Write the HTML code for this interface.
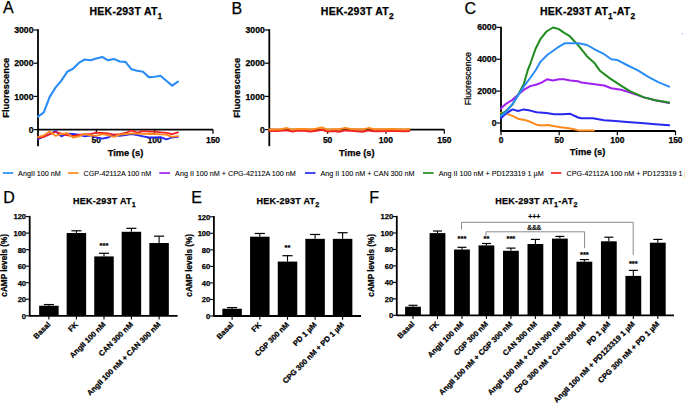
<!DOCTYPE html>
<html><head><meta charset="utf-8"><style>
html,body{margin:0;padding:0;background:#fff;}
svg{display:block;font-family:"Liberation Sans", sans-serif;}
text{stroke:#000;stroke-width:0.25px;}
</style></head><body>
<svg width="685" height="404" viewBox="0 0 685 404">
<rect width="685" height="404" fill="#fff"/>
<text x="2.9" y="12.8" font-size="16" font-weight="normal" text-anchor="start" >A</text>
<text x="231.6" y="13.6" font-size="16" font-weight="normal" text-anchor="start" >B</text>
<text x="464.5" y="13.5" font-size="16" font-weight="normal" text-anchor="start" >C</text>
<text x="3.3" y="203.2" font-size="16" font-weight="normal" text-anchor="start" >D</text>
<text x="191.3" y="202.7" font-size="16" font-weight="normal" text-anchor="start" >E</text>
<text x="369.3" y="203.2" font-size="16" font-weight="normal" text-anchor="start" >F</text>
<text x="89.5" y="15.2" font-size="10.5" font-weight="bold" letter-spacing="0.25"><tspan y="15.2">HEK-293T AT</tspan><tspan font-size="8.40" dy="3.57">1</tspan></text>
<text x="320.8" y="15.2" font-size="10.5" font-weight="bold" letter-spacing="0.25"><tspan y="15.2">HEK-293T AT</tspan><tspan font-size="8.40" dy="3.57">2</tspan></text>
<text x="540.0" y="15.0" font-size="10.5" font-weight="bold" letter-spacing="0.25"><tspan y="15.0">HEK-293T AT</tspan><tspan font-size="8.40" dy="3.57">1</tspan><tspan y="15.0">-AT</tspan><tspan font-size="8.40" dy="3.57">2</tspan></text>
<text x="73.1" y="203.8" font-size="9" font-weight="bold" letter-spacing="0.25"><tspan y="203.8">HEK-293T AT</tspan><tspan font-size="7.20" dy="3.06">1</tspan></text>
<text x="256.6" y="203.8" font-size="9" font-weight="bold" letter-spacing="0.25"><tspan y="203.8">HEK-293T AT</tspan><tspan font-size="7.20" dy="3.06">2</tspan></text>
<text x="495.3" y="203.7" font-size="9" font-weight="bold" letter-spacing="0.25"><tspan y="203.7">HEK-293T AT</tspan><tspan font-size="7.20" dy="3.06">1</tspan><tspan y="203.7">-AT</tspan><tspan font-size="7.20" dy="3.06">2</tspan></text>
<line x1="38" y1="29.2" x2="38" y2="146.2" stroke="#000" stroke-width="1.8"/>
<line x1="38" y1="129.6" x2="213" y2="129.6" stroke="#000" stroke-width="1.8"/>
<line x1="33.5" y1="30.0" x2="38" y2="30.0" stroke="#000" stroke-width="1.2"/>
<text x="33.5" y="33.1" font-size="8.7" font-weight="bold" text-anchor="end" >3000</text>
<line x1="33.5" y1="63.19999999999999" x2="38" y2="63.19999999999999" stroke="#000" stroke-width="1.2"/>
<text x="33.5" y="66.29999999999998" font-size="8.7" font-weight="bold" text-anchor="end" >2000</text>
<line x1="33.5" y1="96.39999999999999" x2="38" y2="96.39999999999999" stroke="#000" stroke-width="1.2"/>
<text x="33.5" y="99.49999999999999" font-size="8.7" font-weight="bold" text-anchor="end" >1000</text>
<line x1="33.5" y1="129.6" x2="38" y2="129.6" stroke="#000" stroke-width="1.2"/>
<text x="33.5" y="132.7" font-size="8.7" font-weight="bold" text-anchor="end" >0</text>
<line x1="96.33333333333334" y1="129.6" x2="96.33333333333334" y2="133.79999999999998" stroke="#000" stroke-width="1.2"/>
<text x="96.33333333333334" y="142.8" font-size="8.5" font-weight="bold" text-anchor="middle" >50</text>
<line x1="154.66666666666669" y1="129.6" x2="154.66666666666669" y2="133.79999999999998" stroke="#000" stroke-width="1.2"/>
<text x="154.66666666666669" y="142.8" font-size="8.5" font-weight="bold" text-anchor="middle" >100</text>
<line x1="213.0" y1="129.6" x2="213.0" y2="133.79999999999998" stroke="#000" stroke-width="1.2"/>
<text x="213.0" y="142.8" font-size="8.5" font-weight="bold" text-anchor="middle" >150</text>
<text x="125.5" y="156.3" font-size="9.3" font-weight="bold" text-anchor="middle" >Time (s)</text>
<text transform="translate(5.3,87.7) rotate(-90)" font-size="9.3" font-weight="bold" text-anchor="middle" dy="3.35">Fluorescence</text>
<line x1="269.3" y1="29.2" x2="269.3" y2="146.2" stroke="#000" stroke-width="1.8"/>
<line x1="269.3" y1="129.6" x2="444.3" y2="129.6" stroke="#000" stroke-width="1.8"/>
<line x1="264.8" y1="30.0" x2="269.3" y2="30.0" stroke="#000" stroke-width="1.2"/>
<text x="264.8" y="33.1" font-size="8.7" font-weight="bold" text-anchor="end" >3000</text>
<line x1="264.8" y1="63.19999999999999" x2="269.3" y2="63.19999999999999" stroke="#000" stroke-width="1.2"/>
<text x="264.8" y="66.29999999999998" font-size="8.7" font-weight="bold" text-anchor="end" >2000</text>
<line x1="264.8" y1="96.39999999999999" x2="269.3" y2="96.39999999999999" stroke="#000" stroke-width="1.2"/>
<text x="264.8" y="99.49999999999999" font-size="8.7" font-weight="bold" text-anchor="end" >1000</text>
<line x1="264.8" y1="129.6" x2="269.3" y2="129.6" stroke="#000" stroke-width="1.2"/>
<text x="264.8" y="132.7" font-size="8.7" font-weight="bold" text-anchor="end" >0</text>
<line x1="327.6333333333333" y1="129.6" x2="327.6333333333333" y2="133.79999999999998" stroke="#000" stroke-width="1.2"/>
<text x="327.6333333333333" y="142.8" font-size="8.5" font-weight="bold" text-anchor="middle" >50</text>
<line x1="385.9666666666667" y1="129.6" x2="385.9666666666667" y2="133.79999999999998" stroke="#000" stroke-width="1.2"/>
<text x="385.9666666666667" y="142.8" font-size="8.5" font-weight="bold" text-anchor="middle" >100</text>
<line x1="444.3" y1="129.6" x2="444.3" y2="133.79999999999998" stroke="#000" stroke-width="1.2"/>
<text x="444.3" y="142.8" font-size="8.5" font-weight="bold" text-anchor="middle" >150</text>
<text x="356.8" y="156.3" font-size="9.3" font-weight="bold" text-anchor="middle" >Time (s)</text>
<text transform="translate(236.5,87.9) rotate(-90)" font-size="9.3" font-weight="bold" text-anchor="middle" dy="3.35">Fluorescence</text>
<polyline points="38.0,116.7 43.8,112.4 49.7,96.9 55.5,87.6 61.3,80.7 67.2,71.8 73.0,68.8 78.8,62.9 84.7,59.5 90.5,60.3 96.3,58.5 102.2,56.9 108.0,60.3 113.8,58.9 119.7,61.5 125.5,61.9 131.3,69.2 137.2,70.8 143.0,71.8 148.8,77.1 154.7,76.7 160.5,75.7 166.3,80.7 172.2,85.6 178.0,81.7" fill="none" stroke="#2a8cf6" stroke-width="2.1" stroke-linejoin="round" stroke-linecap="round"/>
<polyline points="38.0,139.2 43.8,136.4 49.7,134.2 55.5,131.0 61.3,136.4 67.2,133.7 73.0,134.0 78.8,134.6 84.7,136.4 90.5,135.5 96.3,137.5 102.2,138.6 108.0,137.5 113.8,135.2 119.7,135.8 125.5,135.0 131.3,134.0 137.2,135.2 143.0,136.4 148.8,137.5 154.7,137.5 160.5,137.2 166.3,139.3 172.2,137.5 178.0,136.9" fill="none" stroke="#2828f0" stroke-width="1.8" stroke-linejoin="round" stroke-linecap="round"/>
<polyline points="38.0,137.5 43.8,137.0 49.7,134.2 55.5,132.0 61.3,133.7 67.2,135.3 73.0,135.9 78.8,135.0 84.7,134.2 90.5,134.2 96.3,132.6 102.2,133.0 108.0,133.4 113.8,134.6 119.7,134.2 125.5,133.0 131.3,130.5 137.2,132.6 143.0,131.1 148.8,131.7 154.7,131.7 160.5,132.3 166.3,132.8 172.2,134.2 178.0,132.3" fill="none" stroke="#f22222" stroke-width="1.8" stroke-linejoin="round" stroke-linecap="round"/>
<polyline points="38.0,137.0 43.8,135.3 49.7,131.5 55.5,135.9 61.3,134.0 67.2,133.1 73.0,137.5 78.8,136.4 84.7,134.0 90.5,135.3 96.3,135.9 102.2,134.2 108.0,135.0 113.8,136.9 119.7,134.6 125.5,134.0 131.3,133.4 137.2,133.6 143.0,133.8 148.8,134.0 154.7,134.0 160.5,134.4 166.3,134.6 172.2,136.9 178.0,136.1" fill="none" stroke="#ff8a1c" stroke-width="1.8" stroke-linejoin="round" stroke-linecap="round"/>
<polyline points="269.3,130.8 275.1,131.0 281.0,130.8 286.8,130.2 292.6,131.6 298.5,130.6 304.3,130.8 310.1,131.6 316.0,130.8 321.8,129.8 327.6,131.6 333.5,131.0 339.3,131.8 345.1,130.4 351.0,130.8 356.8,131.2 362.6,131.8 368.5,130.4 374.3,131.2 380.1,131.2 386.0,131.0 391.8,130.8 397.6,131.0 403.5,131.2 409.3,131.0" fill="none" stroke="#f22222" stroke-width="2" stroke-linejoin="round" stroke-linecap="round"/>
<polyline points="269.3,129.6 275.1,129.6 281.0,129.3 286.8,128.1 292.6,129.6 298.5,129.0 304.3,129.0 310.1,129.6 316.0,128.8 321.8,127.5 327.6,129.8 333.5,129.2 339.3,129.3 345.1,128.1 351.0,129.0 356.8,129.3 362.6,129.5 368.5,128.1 374.3,129.3 380.1,129.3 386.0,129.2 391.8,129.0 397.6,129.3 403.5,129.5 409.3,129.3" fill="none" stroke="#ff8a1c" stroke-width="2" stroke-linejoin="round" stroke-linecap="round"/>
<line x1="501" y1="26.7" x2="501" y2="131.8" stroke="#000" stroke-width="1.8"/>
<line x1="501" y1="131" x2="675.5" y2="131" stroke="#000" stroke-width="1.8"/>
<line x1="496.5" y1="27.36" x2="501" y2="27.36" stroke="#000" stroke-width="1.2"/>
<text x="496.5" y="30.46" font-size="8.7" font-weight="bold" text-anchor="end" >6000</text>
<line x1="496.5" y1="59.24" x2="501" y2="59.24" stroke="#000" stroke-width="1.2"/>
<text x="496.5" y="62.34" font-size="8.7" font-weight="bold" text-anchor="end" >4000</text>
<line x1="496.5" y1="91.12" x2="501" y2="91.12" stroke="#000" stroke-width="1.2"/>
<text x="496.5" y="94.22" font-size="8.7" font-weight="bold" text-anchor="end" >2000</text>
<line x1="496.5" y1="123.0" x2="501" y2="123.0" stroke="#000" stroke-width="1.2"/>
<text x="496.5" y="126.1" font-size="8.7" font-weight="bold" text-anchor="end" >0</text>
<line x1="501.0" y1="131" x2="501.0" y2="135.2" stroke="#000" stroke-width="1.2"/>
<text x="501.0" y="142.6" font-size="8.5" font-weight="bold" text-anchor="middle" >0</text>
<line x1="559.1666666666666" y1="131" x2="559.1666666666666" y2="135.2" stroke="#000" stroke-width="1.2"/>
<text x="559.1666666666666" y="142.6" font-size="8.5" font-weight="bold" text-anchor="middle" >50</text>
<line x1="617.3333333333334" y1="131" x2="617.3333333333334" y2="135.2" stroke="#000" stroke-width="1.2"/>
<text x="617.3333333333334" y="142.6" font-size="8.5" font-weight="bold" text-anchor="middle" >100</text>
<line x1="675.5" y1="131" x2="675.5" y2="135.2" stroke="#000" stroke-width="1.2"/>
<text x="675.5" y="142.6" font-size="8.5" font-weight="bold" text-anchor="middle" >150</text>
<text x="587.6" y="155.4" font-size="9.3" font-weight="bold" text-anchor="middle" >Time (s)</text>
<text transform="translate(467.8,78.6) rotate(-90)" font-size="8.9" font-weight="normal" stroke="#000" stroke-width="0.3" text-anchor="middle" dy="3.2">Fluorescence</text>
<polyline points="500.9,112.7 506.0,113.5 512.5,115.9 518.9,119.1 524.6,119.9 530.2,121.8 536.6,124.7 541.5,125.5 547.9,125.0 554.3,126.3 562.4,127.6 568.8,128.3 575.3,129.6 578.5,130.4 593.9,130.4" fill="none" stroke="#ff8a1c" stroke-width="2" stroke-linejoin="round" stroke-linecap="round"/>
<polyline points="500.9,118.3 506.0,113.5 512.5,109.4 518.1,111.0 523.8,109.4 530.2,110.6 536.6,112.2 546.3,113.1 554.3,114.3 562.4,114.3 570.4,113.8 578.0,117.5 581.4,118.2 592.8,118.2 604.2,120.2 615.5,121.1 626.9,121.9 641.2,123.0 655.4,124.2 669.1,125.3" fill="none" stroke="#2828f0" stroke-width="2" stroke-linejoin="round" stroke-linecap="round"/>
<polyline points="500.9,108.6 506.0,103.8 512.5,99.8 518.9,94.1 524.6,89.3 530.2,86.1 536.6,84.5 541.5,82.6 547.1,79.3 552.7,80.5 559.2,79.2 564.0,79.2 570.4,80.5 578.0,81.3 581.4,82.6 592.8,84.0 604.2,85.5 611.3,88.3 621.2,89.7 632.6,93.4 644.0,97.4 655.4,100.3 669.1,103.1" fill="none" stroke="#a020f0" stroke-width="2" stroke-linejoin="round" stroke-linecap="round"/>
<polyline points="500.9,114.0 506.0,111.0 512.5,104.5 518.0,95.0 523.8,84.0 527.8,70.0 529.7,65.5 535.6,48.7 540.6,38.8 546.5,31.5 553.0,27.5 558.4,28.9 564.3,32.9 569.3,35.8 578.5,45.6 587.1,56.4 594.2,62.7 599.9,70.7 609.9,78.4 619.8,84.9 629.8,91.2 644.0,97.4 655.4,100.3 669.1,102.6" fill="none" stroke="#1e8c1e" stroke-width="2" stroke-linejoin="round" stroke-linecap="round"/>
<polyline points="500.9,115.9 506.0,111.9 512.5,103.8 518.9,94.1 524.6,85.3 530.2,78.0 535.8,70.0 540.6,61.6 547.5,54.7 557.4,47.7 564.9,43.2 570.0,43.3 578.5,43.3 587.1,45.0 595.6,49.9 604.2,54.2 611.3,59.3 617.0,59.9 626.9,65.0 638.3,70.7 648.3,76.9 658.2,82.1 669.1,86.6" fill="none" stroke="#2a8cf6" stroke-width="2" stroke-linejoin="round" stroke-linecap="round"/>
<circle cx="682.4" cy="33.7" r="0.7" fill="#2a8cf6" opacity="0.6"/>
<line x1="2.8" y1="173.0" x2="13.2" y2="173.0" stroke="#2a8cf6" stroke-width="1.7"/>
<text x="18.1" y="175.7" font-size="7.2" font-weight="normal" text-anchor="start" style="stroke-width:0.08px">AngII 100 nM</text>
<line x1="68" y1="173.0" x2="78.5" y2="173.0" stroke="#ff8a1c" stroke-width="1.7"/>
<text x="83.5" y="175.7" font-size="7.2" font-weight="normal" text-anchor="start" style="stroke-width:0.08px">CGP-42112A 100 nM</text>
<line x1="159.3" y1="173.0" x2="170.1" y2="173.0" stroke="#a020f0" stroke-width="1.7"/>
<text x="175.1" y="175.7" font-size="7.2" font-weight="normal" text-anchor="start" style="stroke-width:0.08px">Ang II 100 nM + CPG-42112A 100 nM</text>
<line x1="305" y1="173.0" x2="315.5" y2="173.0" stroke="#2828f0" stroke-width="1.7"/>
<text x="320.5" y="175.7" font-size="7.2" font-weight="normal" text-anchor="start" style="stroke-width:0.08px">Ang II 100 nM + CAN 300 nM</text>
<line x1="423" y1="173.0" x2="433.6" y2="173.0" stroke="#1e8c1e" stroke-width="1.7"/>
<text x="438.7" y="175.7" font-size="7.2" font-weight="normal" text-anchor="start" style="stroke-width:0.08px">Ang II 100 nM + PD123319 1 µM</text>
<line x1="551" y1="173.0" x2="561.3" y2="173.0" stroke="#f22222" stroke-width="1.7"/>
<text x="566.5" y="175.7" font-size="7.2" font-weight="normal" text-anchor="start" style="stroke-width:0.08px">CPG-42112A 100 nM + PD123319 1 µM</text>
<line x1="48.9" y1="304.5528" x2="48.9" y2="305.7106" stroke="#000" stroke-width="1.1"/>
<line x1="43.83" y1="304.5528" x2="53.97" y2="304.5528" stroke="#000" stroke-width="1.2"/>
<rect x="39.15" y="305.71" width="19.5" height="10.09" fill="#000"/>
<line x1="76.4" y1="230.7844" x2="76.4" y2="233.01730000000003" stroke="#000" stroke-width="1.1"/>
<line x1="71.33000000000001" y1="230.7844" x2="81.47" y2="230.7844" stroke="#000" stroke-width="1.2"/>
<rect x="66.65" y="233.02" width="19.5" height="82.78" fill="#000"/>
<line x1="104.0" y1="253.27880000000002" x2="104.0" y2="256.4214" stroke="#000" stroke-width="1.1"/>
<line x1="98.93" y1="253.27880000000002" x2="109.07" y2="253.27880000000002" stroke="#000" stroke-width="1.2"/>
<rect x="94.25" y="256.42" width="19.5" height="59.38" fill="#000"/>
<line x1="131.4" y1="228.3034" x2="131.4" y2="231.77680000000004" stroke="#000" stroke-width="1.1"/>
<line x1="126.33000000000001" y1="228.3034" x2="136.47" y2="228.3034" stroke="#000" stroke-width="1.2"/>
<rect x="121.65" y="231.78" width="19.5" height="84.02" fill="#000"/>
<line x1="159.1" y1="236.15990000000002" x2="159.1" y2="243.024" stroke="#000" stroke-width="1.1"/>
<line x1="154.03" y1="236.15990000000002" x2="164.17" y2="236.15990000000002" stroke="#000" stroke-width="1.2"/>
<rect x="149.35" y="243.02" width="19.5" height="72.78" fill="#000"/>
<line x1="29.7" y1="215.86" x2="29.7" y2="316.5" stroke="#000" stroke-width="1.8"/>
<line x1="29.7" y1="315.8" x2="177.6" y2="315.8" stroke="#000" stroke-width="1.8"/>
<line x1="25.9" y1="315.8" x2="29.7" y2="315.8" stroke="#000" stroke-width="1.1"/>
<text x="26.099999999999998" y="318.7" font-size="7.6" font-weight="bold" text-anchor="end" >0</text>
<line x1="25.9" y1="299.26" x2="29.7" y2="299.26" stroke="#000" stroke-width="1.1"/>
<text x="26.099999999999998" y="302.15999999999997" font-size="7.6" font-weight="bold" text-anchor="end" >20</text>
<line x1="25.9" y1="282.72" x2="29.7" y2="282.72" stroke="#000" stroke-width="1.1"/>
<text x="26.099999999999998" y="285.62" font-size="7.6" font-weight="bold" text-anchor="end" >40</text>
<line x1="25.9" y1="266.18" x2="29.7" y2="266.18" stroke="#000" stroke-width="1.1"/>
<text x="26.099999999999998" y="269.08" font-size="7.6" font-weight="bold" text-anchor="end" >60</text>
<line x1="25.9" y1="249.64000000000001" x2="29.7" y2="249.64000000000001" stroke="#000" stroke-width="1.1"/>
<text x="26.099999999999998" y="252.54000000000002" font-size="7.6" font-weight="bold" text-anchor="end" >80</text>
<line x1="25.9" y1="233.10000000000002" x2="29.7" y2="233.10000000000002" stroke="#000" stroke-width="1.1"/>
<text x="26.099999999999998" y="236.00000000000003" font-size="7.6" font-weight="bold" text-anchor="end" >100</text>
<line x1="25.9" y1="216.56" x2="29.7" y2="216.56" stroke="#000" stroke-width="1.1"/>
<text x="26.099999999999998" y="219.46" font-size="7.6" font-weight="bold" text-anchor="end" >120</text>
<line x1="48.9" y1="315.8" x2="48.9" y2="319.6" stroke="#000" stroke-width="1.1"/>
<text transform="translate(50.90,325.10) rotate(-45)" font-size="7.65" font-weight="bold" text-anchor="end">Basal</text>
<line x1="76.4" y1="315.8" x2="76.4" y2="319.6" stroke="#000" stroke-width="1.1"/>
<text transform="translate(78.40,325.10) rotate(-45)" font-size="7.65" font-weight="bold" text-anchor="end">FK</text>
<line x1="104.0" y1="315.8" x2="104.0" y2="319.6" stroke="#000" stroke-width="1.1"/>
<text transform="translate(106.00,325.10) rotate(-45)" font-size="7.65" font-weight="bold" text-anchor="end">AngII 100 nM</text>
<line x1="131.4" y1="315.8" x2="131.4" y2="319.6" stroke="#000" stroke-width="1.1"/>
<text transform="translate(133.40,325.10) rotate(-45)" font-size="7.65" font-weight="bold" text-anchor="end">CAN 300 nM</text>
<line x1="159.1" y1="315.8" x2="159.1" y2="319.6" stroke="#000" stroke-width="1.1"/>
<text transform="translate(161.10,325.10) rotate(-45)" font-size="7.65" font-weight="bold" text-anchor="end">AngII 100 nM + CAN 300 nM</text>
<text transform="translate(4.4,265.3) rotate(-90)" font-size="8.2" font-weight="bold" text-anchor="middle" dy="2.9">cAMP levels (%)</text>
<text x="104" y="247.9" font-size="7.5" font-weight="bold" text-anchor="middle" >***</text>
<line x1="232.1" y1="307.5646" x2="232.1" y2="308.7224" stroke="#000" stroke-width="1.1"/>
<line x1="227.03" y1="307.5646" x2="237.17" y2="307.5646" stroke="#000" stroke-width="1.2"/>
<rect x="222.35" y="308.72" width="19.5" height="7.28" fill="#000"/>
<line x1="259.8" y1="233.4654" x2="259.8" y2="236.6907" stroke="#000" stroke-width="1.1"/>
<line x1="254.73000000000002" y1="233.4654" x2="264.87" y2="233.4654" stroke="#000" stroke-width="1.2"/>
<rect x="250.05" y="236.69" width="19.5" height="79.31" fill="#000"/>
<line x1="287.5" y1="255.7117" x2="287.5" y2="261.5834" stroke="#000" stroke-width="1.1"/>
<line x1="282.43" y1="255.7117" x2="292.57" y2="255.7117" stroke="#000" stroke-width="1.2"/>
<rect x="277.75" y="261.58" width="19.5" height="54.42" fill="#000"/>
<line x1="315.1" y1="234.45780000000002" x2="315.1" y2="238.8409" stroke="#000" stroke-width="1.1"/>
<line x1="310.03000000000003" y1="234.45780000000002" x2="320.17" y2="234.45780000000002" stroke="#000" stroke-width="1.2"/>
<rect x="305.35" y="238.84" width="19.5" height="77.16" fill="#000"/>
<line x1="342.6" y1="232.7211" x2="342.6" y2="238.8409" stroke="#000" stroke-width="1.1"/>
<line x1="337.53000000000003" y1="232.7211" x2="347.67" y2="232.7211" stroke="#000" stroke-width="1.2"/>
<rect x="332.85" y="238.84" width="19.5" height="77.16" fill="#000"/>
<line x1="213.9" y1="216.06" x2="213.9" y2="316.7" stroke="#000" stroke-width="1.8"/>
<line x1="213.9" y1="316.0" x2="361" y2="316.0" stroke="#000" stroke-width="1.8"/>
<line x1="210.1" y1="316.0" x2="213.9" y2="316.0" stroke="#000" stroke-width="1.1"/>
<text x="210.3" y="318.9" font-size="7.6" font-weight="bold" text-anchor="end" >0</text>
<line x1="210.1" y1="299.46" x2="213.9" y2="299.46" stroke="#000" stroke-width="1.1"/>
<text x="210.3" y="302.35999999999996" font-size="7.6" font-weight="bold" text-anchor="end" >20</text>
<line x1="210.1" y1="282.92" x2="213.9" y2="282.92" stroke="#000" stroke-width="1.1"/>
<text x="210.3" y="285.82" font-size="7.6" font-weight="bold" text-anchor="end" >40</text>
<line x1="210.1" y1="266.38" x2="213.9" y2="266.38" stroke="#000" stroke-width="1.1"/>
<text x="210.3" y="269.28" font-size="7.6" font-weight="bold" text-anchor="end" >60</text>
<line x1="210.1" y1="249.84" x2="213.9" y2="249.84" stroke="#000" stroke-width="1.1"/>
<text x="210.3" y="252.74" font-size="7.6" font-weight="bold" text-anchor="end" >80</text>
<line x1="210.1" y1="233.3" x2="213.9" y2="233.3" stroke="#000" stroke-width="1.1"/>
<text x="210.3" y="236.20000000000002" font-size="7.6" font-weight="bold" text-anchor="end" >100</text>
<line x1="210.1" y1="216.76" x2="213.9" y2="216.76" stroke="#000" stroke-width="1.1"/>
<text x="210.3" y="219.66" font-size="7.6" font-weight="bold" text-anchor="end" >120</text>
<line x1="232.1" y1="316.0" x2="232.1" y2="319.8" stroke="#000" stroke-width="1.1"/>
<text transform="translate(234.10,325.30) rotate(-45)" font-size="7.65" font-weight="bold" text-anchor="end">Basal</text>
<line x1="259.8" y1="316.0" x2="259.8" y2="319.8" stroke="#000" stroke-width="1.1"/>
<text transform="translate(261.80,325.30) rotate(-45)" font-size="7.65" font-weight="bold" text-anchor="end">FK</text>
<line x1="287.5" y1="316.0" x2="287.5" y2="319.8" stroke="#000" stroke-width="1.1"/>
<text transform="translate(289.50,325.30) rotate(-45)" font-size="7.65" font-weight="bold" text-anchor="end">CGP 300 nM</text>
<line x1="315.1" y1="316.0" x2="315.1" y2="319.8" stroke="#000" stroke-width="1.1"/>
<text transform="translate(317.10,325.30) rotate(-45)" font-size="7.65" font-weight="bold" text-anchor="end">PD 1 µM</text>
<line x1="342.6" y1="316.0" x2="342.6" y2="319.8" stroke="#000" stroke-width="1.1"/>
<text transform="translate(344.60,325.30) rotate(-45)" font-size="7.65" font-weight="bold" text-anchor="end">CPG 300 nM + PD 1 µM</text>
<text transform="translate(189.2,265.3) rotate(-90)" font-size="8.2" font-weight="bold" text-anchor="middle" dy="2.9">cAMP levels (%)</text>
<text x="287.5" y="249.8" font-size="7.5" font-weight="bold" text-anchor="middle" >**</text>
<line x1="413.0" y1="305.3" x2="413.0" y2="306.7" stroke="#000" stroke-width="1.1"/>
<line x1="408.5" y1="305.3" x2="417.5" y2="305.3" stroke="#000" stroke-width="1.2"/>
<rect x="405.10" y="306.70" width="15.8" height="8.60" fill="#000"/>
<line x1="437.48" y1="231.0" x2="437.48" y2="233.1" stroke="#000" stroke-width="1.1"/>
<line x1="432.98" y1="231.0" x2="441.98" y2="231.0" stroke="#000" stroke-width="1.2"/>
<rect x="429.58" y="233.10" width="15.8" height="82.20" fill="#000"/>
<line x1="461.96" y1="247.3" x2="461.96" y2="249.5" stroke="#000" stroke-width="1.1"/>
<line x1="457.46" y1="247.3" x2="466.46" y2="247.3" stroke="#000" stroke-width="1.2"/>
<rect x="454.06" y="249.50" width="15.8" height="65.80" fill="#000"/>
<line x1="486.44" y1="243.5" x2="486.44" y2="245.4" stroke="#000" stroke-width="1.1"/>
<line x1="481.94" y1="243.5" x2="490.94" y2="243.5" stroke="#000" stroke-width="1.2"/>
<rect x="478.54" y="245.40" width="15.8" height="69.90" fill="#000"/>
<line x1="510.92" y1="248.1" x2="510.92" y2="250.8" stroke="#000" stroke-width="1.1"/>
<line x1="506.42" y1="248.1" x2="515.4200000000001" y2="248.1" stroke="#000" stroke-width="1.2"/>
<rect x="503.02" y="250.80" width="15.8" height="64.50" fill="#000"/>
<line x1="535.4" y1="239.4" x2="535.4" y2="244.0" stroke="#000" stroke-width="1.1"/>
<line x1="530.9" y1="239.4" x2="539.9" y2="239.4" stroke="#000" stroke-width="1.2"/>
<rect x="527.50" y="244.00" width="15.8" height="71.30" fill="#000"/>
<line x1="559.88" y1="236.4" x2="559.88" y2="238.6" stroke="#000" stroke-width="1.1"/>
<line x1="555.38" y1="236.4" x2="564.38" y2="236.4" stroke="#000" stroke-width="1.2"/>
<rect x="551.98" y="238.60" width="15.8" height="76.70" fill="#000"/>
<line x1="584.36" y1="259.6" x2="584.36" y2="261.7" stroke="#000" stroke-width="1.1"/>
<line x1="579.86" y1="259.6" x2="588.86" y2="259.6" stroke="#000" stroke-width="1.2"/>
<rect x="576.46" y="261.70" width="15.8" height="53.60" fill="#000"/>
<line x1="608.84" y1="237.2" x2="608.84" y2="241.3" stroke="#000" stroke-width="1.1"/>
<line x1="604.34" y1="237.2" x2="613.34" y2="237.2" stroke="#000" stroke-width="1.2"/>
<rect x="600.94" y="241.30" width="15.8" height="74.00" fill="#000"/>
<line x1="633.3199999999999" y1="270.4" x2="633.3199999999999" y2="275.9" stroke="#000" stroke-width="1.1"/>
<line x1="628.8199999999999" y1="270.4" x2="637.8199999999999" y2="270.4" stroke="#000" stroke-width="1.2"/>
<rect x="625.42" y="275.90" width="15.8" height="39.40" fill="#000"/>
<line x1="657.8" y1="239.4" x2="657.8" y2="242.7" stroke="#000" stroke-width="1.1"/>
<line x1="653.3" y1="239.4" x2="662.3" y2="239.4" stroke="#000" stroke-width="1.2"/>
<rect x="649.90" y="242.70" width="15.8" height="72.60" fill="#000"/>
<line x1="396.8" y1="215.84000000000003" x2="396.8" y2="316.0" stroke="#000" stroke-width="1.8"/>
<line x1="396.8" y1="315.3" x2="674" y2="315.3" stroke="#000" stroke-width="1.8"/>
<line x1="393.0" y1="315.3" x2="396.8" y2="315.3" stroke="#000" stroke-width="1.1"/>
<text x="393.2" y="318.2" font-size="7.6" font-weight="bold" text-anchor="end" >0</text>
<line x1="393.0" y1="298.84000000000003" x2="396.8" y2="298.84000000000003" stroke="#000" stroke-width="1.1"/>
<text x="393.2" y="301.74" font-size="7.6" font-weight="bold" text-anchor="end" >20</text>
<line x1="393.0" y1="282.38" x2="396.8" y2="282.38" stroke="#000" stroke-width="1.1"/>
<text x="393.2" y="285.28" font-size="7.6" font-weight="bold" text-anchor="end" >40</text>
<line x1="393.0" y1="265.92" x2="396.8" y2="265.92" stroke="#000" stroke-width="1.1"/>
<text x="393.2" y="268.82" font-size="7.6" font-weight="bold" text-anchor="end" >60</text>
<line x1="393.0" y1="249.46" x2="396.8" y2="249.46" stroke="#000" stroke-width="1.1"/>
<text x="393.2" y="252.36" font-size="7.6" font-weight="bold" text-anchor="end" >80</text>
<line x1="393.0" y1="233.0" x2="396.8" y2="233.0" stroke="#000" stroke-width="1.1"/>
<text x="393.2" y="235.9" font-size="7.6" font-weight="bold" text-anchor="end" >100</text>
<line x1="393.0" y1="216.54000000000002" x2="396.8" y2="216.54000000000002" stroke="#000" stroke-width="1.1"/>
<text x="393.2" y="219.44000000000003" font-size="7.6" font-weight="bold" text-anchor="end" >120</text>
<line x1="413.0" y1="315.3" x2="413.0" y2="319.1" stroke="#000" stroke-width="1.1"/>
<text transform="translate(415.00,324.60) rotate(-45)" font-size="7.65" font-weight="bold" text-anchor="end">Basal</text>
<line x1="437.48" y1="315.3" x2="437.48" y2="319.1" stroke="#000" stroke-width="1.1"/>
<text transform="translate(439.48,324.60) rotate(-45)" font-size="7.65" font-weight="bold" text-anchor="end">FK</text>
<line x1="461.96" y1="315.3" x2="461.96" y2="319.1" stroke="#000" stroke-width="1.1"/>
<text transform="translate(463.96,324.60) rotate(-45)" font-size="7.65" font-weight="bold" text-anchor="end">AngII 100 nM</text>
<line x1="486.44" y1="315.3" x2="486.44" y2="319.1" stroke="#000" stroke-width="1.1"/>
<text transform="translate(488.44,324.60) rotate(-45)" font-size="7.65" font-weight="bold" text-anchor="end">CGP 300 nM</text>
<line x1="510.92" y1="315.3" x2="510.92" y2="319.1" stroke="#000" stroke-width="1.1"/>
<text transform="translate(512.92,324.60) rotate(-45)" font-size="7.65" font-weight="bold" text-anchor="end">AngII 100 nM + CGP 300 nM</text>
<line x1="535.4" y1="315.3" x2="535.4" y2="319.1" stroke="#000" stroke-width="1.1"/>
<text transform="translate(537.40,324.60) rotate(-45)" font-size="7.65" font-weight="bold" text-anchor="end">CAN 300 nM</text>
<line x1="559.88" y1="315.3" x2="559.88" y2="319.1" stroke="#000" stroke-width="1.1"/>
<text transform="translate(561.88,324.60) rotate(-45)" font-size="7.65" font-weight="bold" text-anchor="end">AngII 100 nM + CAN 300 nM</text>
<line x1="584.36" y1="315.3" x2="584.36" y2="319.1" stroke="#000" stroke-width="1.1"/>
<text transform="translate(586.36,324.60) rotate(-45)" font-size="7.65" font-weight="bold" text-anchor="end">CPG 300 nM + CAN 300 nM</text>
<line x1="608.84" y1="315.3" x2="608.84" y2="319.1" stroke="#000" stroke-width="1.1"/>
<text transform="translate(610.84,324.60) rotate(-45)" font-size="7.65" font-weight="bold" text-anchor="end">PD 1 µM</text>
<line x1="633.3199999999999" y1="315.3" x2="633.3199999999999" y2="319.1" stroke="#000" stroke-width="1.1"/>
<text transform="translate(635.32,324.60) rotate(-45)" font-size="7.65" font-weight="bold" text-anchor="end">AngII 100 nM + PD123319 1 µM</text>
<line x1="657.8" y1="315.3" x2="657.8" y2="319.1" stroke="#000" stroke-width="1.1"/>
<text transform="translate(659.80,324.60) rotate(-45)" font-size="7.65" font-weight="bold" text-anchor="end">CPG 300 nM + PD 1 µM</text>
<text transform="translate(370.8,265.3) rotate(-90)" font-size="8.2" font-weight="bold" text-anchor="middle" dy="2.9">cAMP levels (%)</text>
<text x="461.96" y="240.5" font-size="7.5" font-weight="bold" text-anchor="middle" >***</text>
<text x="486.44" y="240.5" font-size="7.5" font-weight="bold" text-anchor="middle" >**</text>
<text x="510.92" y="240.5" font-size="7.5" font-weight="bold" text-anchor="middle" >***</text>
<text x="584.36" y="256.9" font-size="7.5" font-weight="bold" text-anchor="middle" >***</text>
<text x="633.3199999999999" y="265.8" font-size="7.5" font-weight="bold" text-anchor="middle" >***</text>
<polyline points="461.46,229.6 461.46,222.3 633.2,222.3 633.2,254.9" fill="none" stroke="#8a8a8a" stroke-width="1"/>
<polyline points="485.94,235.9 485.94,231.8 584.6,231.8 584.6,248.1" fill="none" stroke="#8a8a8a" stroke-width="1"/>
<text x="534.3" y="219.2" font-size="7" font-weight="bold" text-anchor="middle" >+++</text>
<text x="534.3" y="229.5" font-size="7" font-weight="normal" text-anchor="middle" >&amp;&amp;&amp;</text>
</svg>
</body></html>
